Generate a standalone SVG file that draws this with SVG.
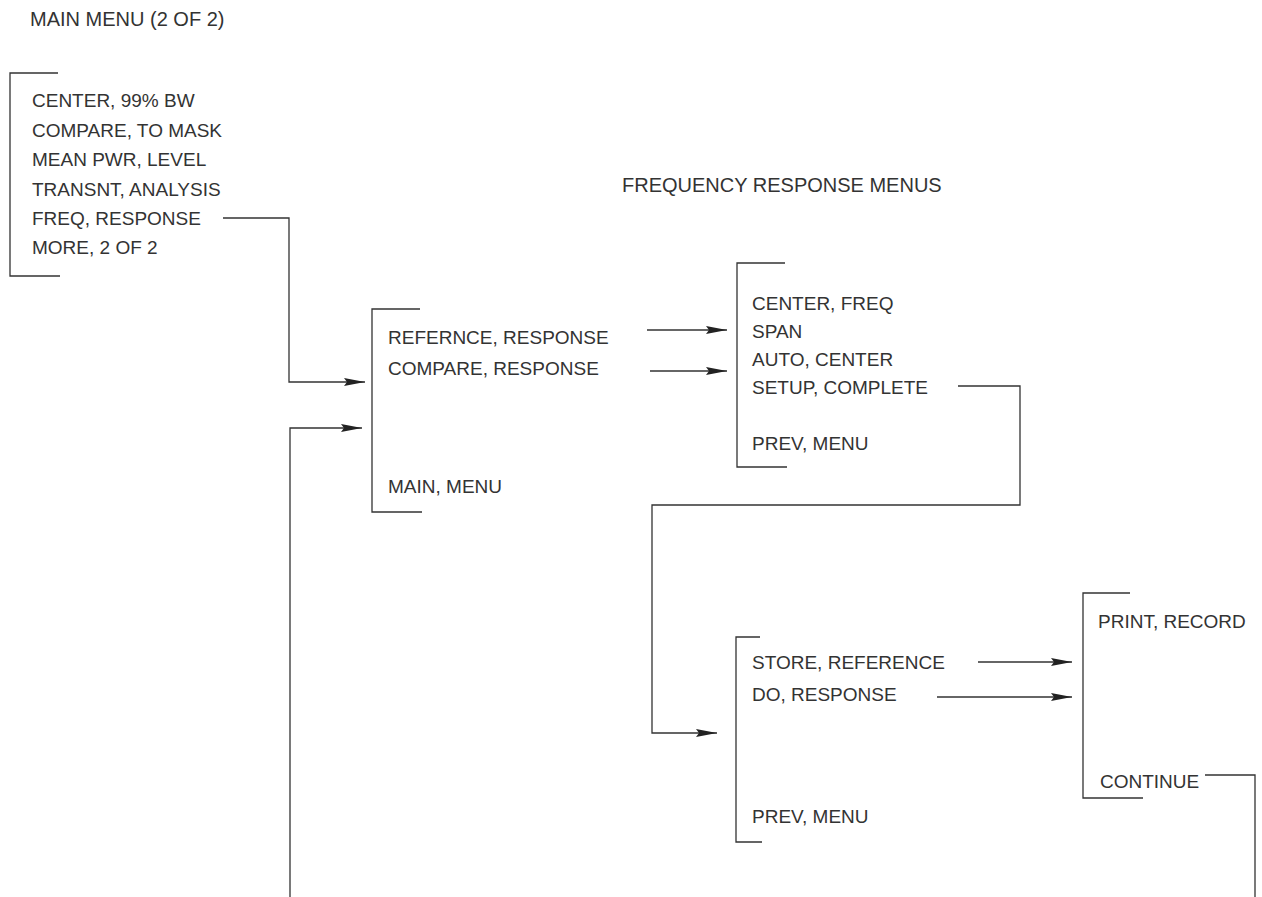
<svg xmlns="http://www.w3.org/2000/svg" width="1262" height="897" viewBox="0 0 1262 897">
<defs>
<style>
text{font-family:"Liberation Sans",Arial,sans-serif;font-size:19px;fill:#333}
.title{font-size:20px}
.br{fill:none;stroke:#333;stroke-width:1.3}
.cn{fill:none;stroke:#333;stroke-width:1.3}
</style>
<marker id="ah" markerUnits="userSpaceOnUse" markerWidth="22" markerHeight="10" refX="21" refY="5" orient="auto">
<path d="M0,1 L21,5 L0,9 L3,5 Z" fill="#222"/>
</marker>
</defs>
<rect width="1262" height="897" fill="#fff"/>
<text class="title" x="30" y="26">MAIN MENU (2 OF 2)</text>
<text class="title" x="622" y="192">FREQUENCY RESPONSE MENUS</text>

<g id="main-menu">
<path class="br" d="M58,73 H10 V276 H60"/>
<text x="32" y="107">CENTER, 99% BW</text>
<text x="32" y="137">COMPARE, TO MASK</text>
<text x="32" y="166">MEAN PWR, LEVEL</text>
<text x="32" y="196">TRANSNT, ANALYSIS</text>
<text x="32" y="225">FREQ, RESPONSE</text>
<text x="32" y="254">MORE, 2 OF 2</text>
</g>

<g id="freq-response-menu">
<path class="br" d="M420,309 H372 V512 H422"/>
<text x="388" y="344">REFERNCE, RESPONSE</text>
<text x="388" y="375">COMPARE, RESPONSE</text>
<text x="388" y="493">MAIN, MENU</text>
</g>

<g id="setup-menu">
<path class="br" d="M785,263 H737 V467 H787"/>
<text x="752" y="310">CENTER, FREQ</text>
<text x="752" y="338">SPAN</text>
<text x="752" y="366">AUTO, CENTER</text>
<text x="752" y="394">SETUP, COMPLETE</text>
<text x="752" y="450">PREV, MENU</text>
</g>

<g id="store-menu">
<path class="br" d="M760,637 H736 V842 H762"/>
<text x="752" y="669">STORE, REFERENCE</text>
<text x="752" y="701">DO, RESPONSE</text>
<text x="752" y="823">PREV, MENU</text>
</g>

<g id="print-menu">
<path class="br" d="M1130,593 H1083 V798 H1143"/>
<text x="1098" y="628">PRINT, RECORD</text>
<text x="1100" y="788">CONTINUE</text>
</g>

<g id="connectors">
<path class="cn" d="M223,218 H289 V382 H365" marker-end="url(#ah)"/>
<path class="cn" d="M290,897 V428 H362" marker-end="url(#ah)"/>
<path class="cn" d="M647,330 H727" marker-end="url(#ah)"/>
<path class="cn" d="M650,371 H727" marker-end="url(#ah)"/>
<path class="cn" d="M958,386 H1020 V505 H652 V733 H717" marker-end="url(#ah)"/>
<path class="cn" d="M978,662 H1072" marker-end="url(#ah)"/>
<path class="cn" d="M937,697 H1072" marker-end="url(#ah)"/>
<path class="cn" d="M1205,775 H1255 V897"/>
</g>
</svg>
